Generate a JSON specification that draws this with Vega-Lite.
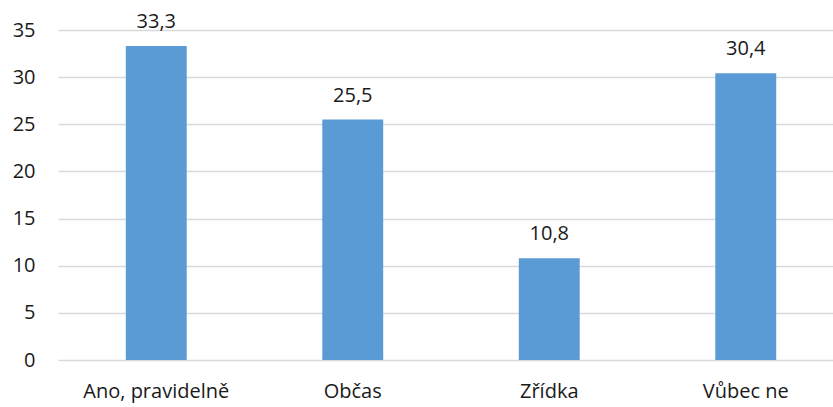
{
  "$schema": "https://vega.github.io/schema/vega-lite/v6.json",
  "autosize": {"type": "none"},
  "width": 786,
  "height": 330,
  "padding": {"left": 58, "top": 30, "right": 0, "bottom": 47},
  "background": "white",
  "config": {
    "view": {"stroke": null},
    "font": "Open Sans",
    "locale": {"number": {"decimal": ",", "thousands": " ", "grouping": [3], "currency": ["", " Kč"]}}
  },
  "data": {"values": [
    {"kategorie": "Ano, pravidelně", "hodnota": 33.3},
    {"kategorie": "Občas", "hodnota": 25.5},
    {"kategorie": "Zřídka", "hodnota": 10.8},
    {"kategorie": "Vůbec ne", "hodnota": 30.4}
  ]},
  "encoding": {
    "x": {"field": "kategorie", "type": "nominal", "sort": null,
      "scale": {"paddingInner": 0.69, "paddingOuter": 0.345},
      "axis": {"title": null, "labelAngle": 0, "domain": false, "ticks": false, "labelPadding": 21, "labelFontSize": 20, "labelColor": "#1a1a1a", "labelFont": "Open Sans"}},
    "y": {"field": "hodnota", "type": "quantitative",
      "scale": {"domain": [0, 35], "nice": false},
      "axis": {"title": null, "values": [0,5,10,15,20,25,30,35], "domain": false, "ticks": false, "labelPadding": 23, "labelFontSize": 20, "labelColor": "#1a1a1a", "gridColor": "#D9D9D9", "gridWidth": 1.3, "format": "d"}}
  },
  "layer": [
    {"mark": {"type": "bar", "color": "#5B9BD5"}},
    {"mark": {"type": "text", "baseline": "alphabetic", "dy": -18, "fontSize": 20, "color": "#1a1a1a"},
     "encoding": {"text": {"field": "hodnota", "type": "quantitative", "format": ".1f"}}}
  ]
}
